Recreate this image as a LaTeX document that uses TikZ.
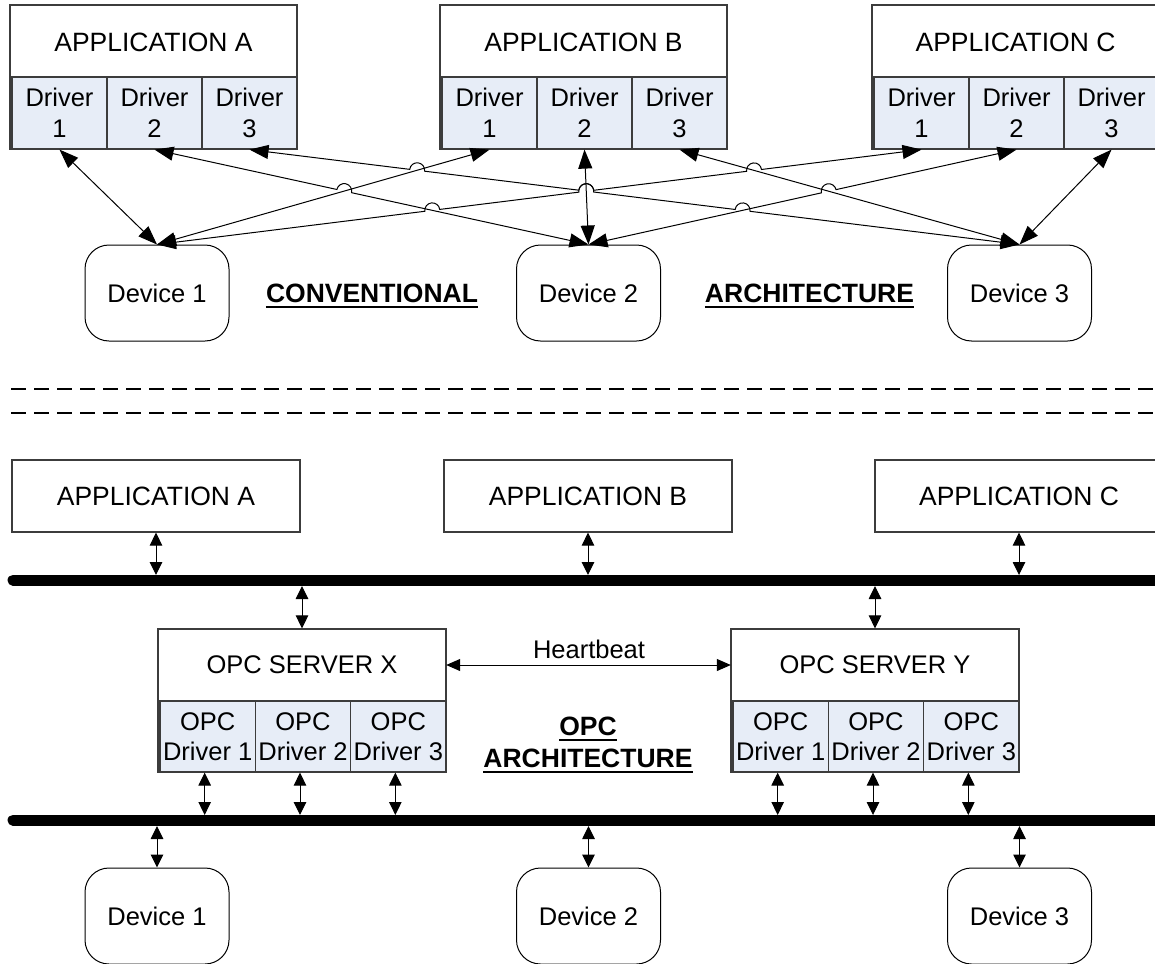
\documentclass[tikz,border=0pt]{standalone}
\usepackage{fontspec}
\setmainfont{Liberation Sans}
\usetikzlibrary{arrows.meta,calc}
\definecolor{drvfill}{RGB}{231,237,247}
\definecolor{edge}{RGB}{60,60,60}
\def\hoprad{7.5pt}

\begin{document}
\begin{tikzpicture}[x=1pt,y=-1pt,
  >={Triangle[length=19pt,width=14pt]},
  txt/.style={font=\fontsize{25.5}{31}\selectfont, align=center, inner sep=0pt},
  ttl/.style={font=\fontsize{26.5}{31}\selectfont, inner sep=0pt},
  frame/.style={draw=edge, line width=1.2pt, inner sep=0pt},
  cell/.style={frame, fill=drvfill, txt, minimum width=95pt, minimum height=72pt},
  opccell/.style={frame, fill=drvfill, txt, font=\fontsize{25.5}{30}\selectfont, minimum width=95.33pt, minimum height=71pt},
  dev/.style={draw=black, line width=1pt, rounded corners=24pt, minimum width=144pt, minimum height=96pt, txt},
  link/.style={line width=1pt, <->},
  tap/.style={line width=1pt, {Triangle[length=13pt,width=12.5pt]}-{Triangle[length=13pt,width=12.5pt]}},
  bus/.style={line width=11pt, line cap=round},
  sepline/.style={line width=2.6pt, dash pattern=on 15pt off 8pt},
  lbl/.style={font=\bfseries\fontsize{26.5}{30}\selectfont, inner sep=0pt},
  uline/.style={line width=2pt},
]
\useasboundingbox (0,0) rectangle (1155,963);
\clip (0,0) rectangle (1155,963);

% ---------- conventional architecture ----------
\foreach \L/\n/\t in {10/a/A,440/b/B,872/c/C}{
  \node[frame, minimum width=287pt, minimum height=144pt] (box\n) at (\L+143.5,77) {};
  \node[ttl] (ttl\n) at (\L+143.5,42) {APPLICATION \t};
  \node[cell] (\n1) at (\L+49.5,113) {Driver\\1};
  \node[cell] (\n2) at (\L+144.5,113) {Driver\\2};
  \node[cell] (\n3) at (\L+239.5,113) {Driver\\3};
}

\node[dev] (d1) at (157,293) {Device 1};
\node[dev] (d2) at (588.5,293) {Device 2};
\node[dev] (d3) at (1019.5,293) {Device 3};

\node[lbl, anchor=base] (conv) at (372,302) {CONVENTIONAL};
\node[lbl, anchor=base] (archA) at (809.5,302) {ARCHITECTURE};
\draw[uline] ([yshift=-4.5pt]conv.base west) -- ([yshift=-4.5pt]conv.base east);
\draw[uline] ([yshift=-4.5pt]archA.base west) -- ([yshift=-4.5pt]archA.base east);

% crossing points where a line hops over another
\coordinate (x34) at (intersection of d1.north--c1.south and a2.south--d2.north);
\coordinate (x35) at (intersection of d1.north--c1.south and b2.south--d2.north);
\coordinate (x38) at (intersection of d1.north--c1.south and b3.south--d3.north);
\coordinate (x42) at (intersection of a2.south--d2.north and b1.south--d1.north);
\coordinate (x68) at (intersection of d2.north--c2.south and b3.south--d3.north);
\coordinate (x72) at (intersection of a3.south--d3.north and b1.south--d1.north);
\coordinate (x75) at (intersection of a3.south--d3.north and b2.south--d2.north);
\coordinate (x76) at (intersection of a3.south--d3.north and d2.north--c2.south);

% straight links
\draw[link] (a1.south) -- (d1.north);
\draw[link] (b1.south) -- (d1.north);
\draw[link] (b2.south) -- (d2.north);
\draw[link] (b3.south) -- (d3.north);
\draw[link] (c3.south) -- (d3.north);

% links with line jumps
\draw[link] let \p1=($(c1.south)-(d1.north)$), \n1={atan2(\y1,\x1)} in
  (d1.north) -- ($(x34)!\hoprad!(d1.north)$) arc[start angle=\n1+180,end angle=\n1,radius=\hoprad]
  -- ($(x35)!\hoprad!(d1.north)$) arc[start angle=\n1+180,end angle=\n1,radius=\hoprad]
  -- ($(x38)!\hoprad!(d1.north)$) arc[start angle=\n1+180,end angle=\n1,radius=\hoprad]
  -- (c1.south);
\draw[link] let \p1=($(d2.north)-(a2.south)$), \n1={atan2(\y1,\x1)} in
  (a2.south) -- ($(x42)!\hoprad!(a2.south)$) arc[start angle=\n1+180,end angle=\n1,radius=\hoprad]
  -- (d2.north);
\draw[link] let \p1=($(c2.south)-(d2.north)$), \n1={atan2(\y1,\x1)} in
  (d2.north) -- ($(x68)!\hoprad!(d2.north)$) arc[start angle=\n1+180,end angle=\n1,radius=\hoprad]
  -- (c2.south);
\draw[link] let \p1=($(d3.north)-(a3.south)$), \n1={atan2(\y1,\x1)} in
  (a3.south) -- ($(x72)!\hoprad!(a3.south)$) arc[start angle=\n1+180,end angle=\n1,radius=\hoprad]
  -- ($(x75)!\hoprad!(a3.south)$) arc[start angle=\n1+180,end angle=\n1,radius=\hoprad]
  -- ($(x76)!\hoprad!(a3.south)$) arc[start angle=\n1+180,end angle=\n1,radius=\hoprad]
  -- (d3.north);

% ---------- separator ----------
\coordinate (s1w) at (11,389);  \coordinate (s1e) at (1160,389);
\coordinate (s2w) at (11,413);  \coordinate (s2e) at (1160,413);
\draw[sepline] (s1w) -- (s1e);
\draw[sepline] (s2w) -- (s2e);

% ---------- OPC architecture ----------
\node[frame, ttl, minimum width=288pt, minimum height=72pt] (pA) at (156,496) {APPLICATION A};
\node[frame, ttl, minimum width=288pt, minimum height=72pt] (pB) at (588,496) {APPLICATION B};
\node[frame, ttl, minimum width=288pt, minimum height=72pt] (pC) at (1019,496) {APPLICATION C};

\coordinate (bus1w) at (13,580);  \coordinate (bus1e) at (1175,580);
\coordinate (bus1top) at (0,575); \coordinate (bus1bot) at (0,586);
\coordinate (bus2w) at (13,820);  \coordinate (bus2e) at (1175,820);
\coordinate (bus2top) at (0,815); \coordinate (bus2bot) at (0,826);
\draw[bus] (bus1w) -- (bus1e);
\draw[bus] (bus2w) -- (bus2e);

\foreach \L/\n/\t in {158/x/X,731/y/Y}{
  \node[frame, minimum width=288pt, minimum height=143pt] (srv\n) at (\L+144,700.5) {};
  \node[ttl, font=\fontsize{25.5}{31}\selectfont, minimum width=288pt, minimum height=72pt] (st\n) at (\L+144,665) {OPC SERVER \t};
  \node[opccell] (\n d1) at (\L+49.67,736.5) {OPC\\Driver 1};
  \node[opccell] (\n d2) at (\L+145,736.5) {OPC\\Driver 2};
  \node[opccell] (\n d3) at (\L+240.33,736.5) {OPC\\Driver 3};
}

\node[txt, anchor=base] (hbt) at (589,658) {Heartbeat};
\draw[line width=1pt, {Triangle[length=14pt,width=12pt]}-{Triangle[length=14pt,width=12pt]}] (stx.east) -- (sty.west);

\node[lbl, anchor=base] (opcl) at (588,735.5) {OPC};
\node[lbl, anchor=base] (archB) at (588,767.5) {ARCHITECTURE};
\draw[uline] ([yshift=-4.5pt]opcl.base west) -- ([yshift=-4.5pt]opcl.base east);
\draw[uline] ([yshift=-4.5pt]archB.base west) -- ([yshift=-4.5pt]archB.base east);

\node[dev] (e1) at (157,916) {Device 1};
\node[dev] (e2) at (588.5,916) {Device 2};
\node[dev] (e3) at (1019.5,916) {Device 3};

% taps onto the buses
\draw[tap] (pA.south) -- (pA.south |- bus1top);
\draw[tap] (pB.south) -- (pB.south |- bus1top);
\draw[tap] (pC.south) -- (pC.south |- bus1top);
\draw[tap] (srvx.north) -- (srvx.north |- bus1bot);
\draw[tap] (srvy.north) -- (srvy.north |- bus1bot);
\foreach \s in {x,y}{
  \foreach \k in {1,2,3}{
    \draw[tap] ([xshift=-3pt]\s d\k.south) -- ([xshift=-3pt]\s d\k.south |- bus2top);
  }
}
\draw[tap] (e1.north) -- (e1.north |- bus2bot);
\draw[tap] (e2.north) -- (e2.north |- bus2bot);
\draw[tap] (e3.north) -- (e3.north |- bus2bot);
\end{tikzpicture}
\end{document}
